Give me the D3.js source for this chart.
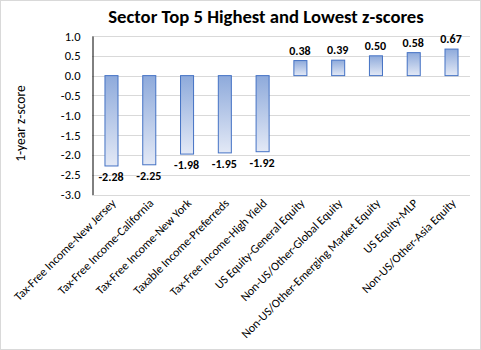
<!DOCTYPE html>
<html>
<head>
<meta charset="utf-8">
<script src="https://cdn.jsdelivr.net/npm/d3@7"></script>
<style>
  html, body { margin: 0; padding: 0; background: #fff; }
  svg { display: block; }
</style>
</head>
<body>
<svg id="chart" width="481" height="350"></svg>
<script>
const categories = [
  "Tax-Free Income-New Jersey",
  "Tax-Free Income-California",
  "Tax-Free Income-New York",
  "Taxable Income-Preferreds",
  "Tax-Free Income-High Yield",
  "US Equity-General Equity",
  "Non-US/Other-Global Equity",
  "Non-US/Other-Emerging Market Equity",
  "US Equity-MLP",
  "Non-US/Other-Asia Equity"
];
const zScores = [-2.28, -2.25, -1.98, -1.95, -1.92, 0.38, 0.39, 0.50, 0.58, 0.67];
const yTicks = [1.0, 0.5, 0.0, -0.5, -1.0, -1.5, -2.0, -2.5, -3.0];

const W = 481, H = 350;
const font = "Calibri, Carlito, 'Liberation Sans', Arial, sans-serif";
const svg = d3.select("#chart");

// outer frame
svg.append("rect").attr("x", 0.5).attr("y", 0.5).attr("width", W - 1).attr("height", H - 1)
  .attr("fill", "#fff").attr("stroke", "#d9d9d9");

const plot = { left: 92, right: 470, top: 36, bottom: 194.5 };

const x = d3.scaleBand().domain(categories).range([plot.left, plot.right]).paddingInner(0.655).paddingOuter(0.33);
const y = d3.scaleLinear().domain([-3, 1]).range([plot.bottom, plot.top]);

const defs = svg.append("defs");
const grad = defs.append("linearGradient").attr("id", "barGrad").attr("x1", 0).attr("y1", 0).attr("x2", 0).attr("y2", 1);
grad.append("stop").attr("offset", "0%").attr("stop-color", "#8eaadb");
grad.append("stop").attr("offset", "100%").attr("stop-color", "#e3e9f6");

// gridlines
svg.append("g").selectAll("line").data(yTicks).join("line")
  .attr("x1", plot.left).attr("x2", plot.right)
  .attr("y1", d => Math.round(y(d)) + 0.5).attr("y2", d => Math.round(y(d)) + 0.5)
  .attr("stroke", "#d9d9d9").attr("stroke-width", 1);

// y axis
const yAxis = d3.axisLeft(y).tickValues(yTicks).tickFormat(d3.format(".1f")).tickSize(0).tickPadding(12);
const gy = svg.append("g").attr("transform", `translate(${plot.left + 0.5},0)`).call(yAxis);
gy.select(".domain").attr("stroke", "#000").attr("stroke-width", 1);
gy.selectAll("text").attr("font-family", font).attr("font-size", 12.5).attr("fill", "#000")
  .text(d => d < 0 ? "-" + d3.format(".1f")(-d) : d3.format(".1f")(d));

// bars
svg.append("g").selectAll("rect").data(categories).join("rect")
  .attr("x", c => x(c) + 0.5)
  .attr("y", (c, i) => Math.min(y(0), y(zScores[i])))
  .attr("width", x.bandwidth())
  .attr("height", (c, i) => Math.abs(y(zScores[i]) - y(0)))
  .attr("fill", "url(#barGrad)")
  .attr("stroke", "#4472c4").attr("stroke-width", 1);

// value labels
svg.append("g").selectAll("text").data(categories).join("text")
  .attr("x", c => x(c) + x.bandwidth() / 2)
  .attr("y", (c, i) => zScores[i] < 0 ? y(zScores[i]) + 15 : y(zScores[i]) - 6)
  .attr("text-anchor", "middle")
  .attr("font-family", font).attr("font-size", 12).attr("font-weight", "bold")
  .attr("fill", "#000")
  .text((c, i) => zScores[i].toFixed(2));

// category labels
const xAxis = d3.axisBottom(x).tickSize(0).tickPadding(0);
const gx = svg.append("g").attr("transform", `translate(0,${plot.bottom + 9})`).call(xAxis);
gx.select(".domain").remove();
gx.selectAll("text")
  .attr("font-family", font).attr("font-size", 12).attr("fill", "#000")
  .attr("text-anchor", "end").attr("dy", "0.35em").attr("dx", "0.3em")
  .attr("transform", "rotate(-45)");

// axis title
svg.append("text").attr("transform", "translate(25,123.5) rotate(-90)")
  .attr("text-anchor", "middle").attr("font-family", font).attr("font-size", 13.5).attr("fill", "#000")
  .text("1-year z-score");

// chart title
svg.append("text").attr("x", 266).attr("y", 23).attr("text-anchor", "middle")
  .attr("font-family", font).attr("font-size", 18.7).attr("font-weight", "bold").attr("fill", "#000")
  .text("Sector Top 5 Highest and Lowest z-scores");
</script>
</body>
</html>
